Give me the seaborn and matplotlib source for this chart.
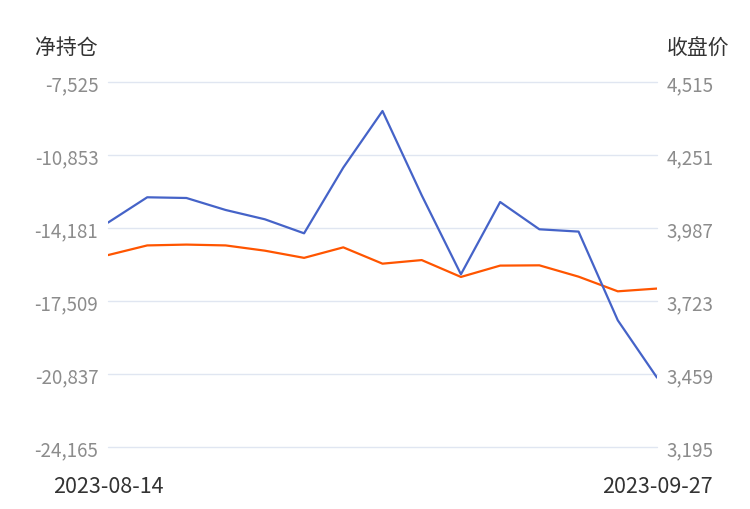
import matplotlib
matplotlib.use("Agg")
import matplotlib.pyplot as plt
import seaborn as sns
import pandas as pd

dates = ["2023-08-14", "2023-08-17", "2023-08-21", "2023-08-24", "2023-08-28",
         "2023-08-31", "2023-09-04", "2023-09-07", "2023-09-11", "2023-09-14",
         "2023-09-18", "2023-09-20", "2023-09-22", "2023-09-25", "2023-09-27"]
net_position = [-13935, -12781, -12813, -13360, -13784, -14423, -11427, -8847,
                -12690, -16292, -12996, -14240, -14345, -18389, -21001]
close_price = [3889, 3924, 3927, 3924, 3905, 3879, 3917, 3858, 3871, 3810,
               3851, 3852, 3811, 3758, 3768]
left_ticks = [-7525, -10853, -14181, -17509, -20837, -24165]
right_ticks = [4515, 4251, 3987, 3723, 3459, 3195]
left_title = "净持仓"
right_title = "收盘价"

sns.set_theme(style="white")
plt.rcParams['font.family'] = ['Noto Sans CJK SC', 'DejaVu Sans']

df = pd.DataFrame({"idx": range(len(dates)), "date": dates,
                   "net": net_position, "close": close_price})

fig = plt.figure(figsize=(7.5, 5.1), dpi=100)
ax = fig.add_axes([108/750, 1-448/510, (657-108)/750, (448-83)/510])
ax2 = ax.twinx()

tick_color = "#8c8c8c"
grid_color = "#e0e6f1"

ax.set_ylim(min(left_ticks), max(left_ticks))
ax.set_yticks(left_ticks)
ax.set_yticklabels([f"{v:,}" for v in left_ticks])
ax2.set_ylim(min(right_ticks), max(right_ticks))
ax2.set_yticks(right_ticks)
ax2.set_yticklabels([f"{v:,}" for v in right_ticks])
ax.set_xlim(0, len(dates) - 1)

for y in left_ticks:
    ax.axhline(y, color=grid_color, lw=1, zorder=0, clip_on=False)

sns.lineplot(data=df, x="idx", y="close", ax=ax2, color="#ff5500", lw=1.6)
sns.lineplot(data=df, x="idx", y="net", ax=ax, color="#4563c8", lw=1.6)
ax.set_zorder(ax2.get_zorder() + 1)
ax.patch.set_visible(False)

ax.set_xticks([0, len(dates) - 1])
ax.set_xticklabels([dates[0], dates[-1]])
ax.tick_params(axis="x", length=0, pad=20, labelsize=15.5, labelcolor="#333333")
ax.tick_params(axis="y", length=0, pad=7, labelsize=13.5, labelcolor=tick_color)
ax2.tick_params(axis="y", length=0, pad=7, labelsize=13.5, labelcolor=tick_color)

for a in (ax, ax2):
    a.set_xlabel("")
    a.set_ylabel("")
    for s in a.spines.values():
        s.set_visible(False)
    a.grid(False)

fig.text(66/750, 1-48/510, left_title, ha="center", va="center", fontsize=15, color="#333333")
fig.text(698/750, 1-48/510, right_title, ha="center", va="center", fontsize=15, color="#333333")

fig.savefig("out.png", dpi=100)
